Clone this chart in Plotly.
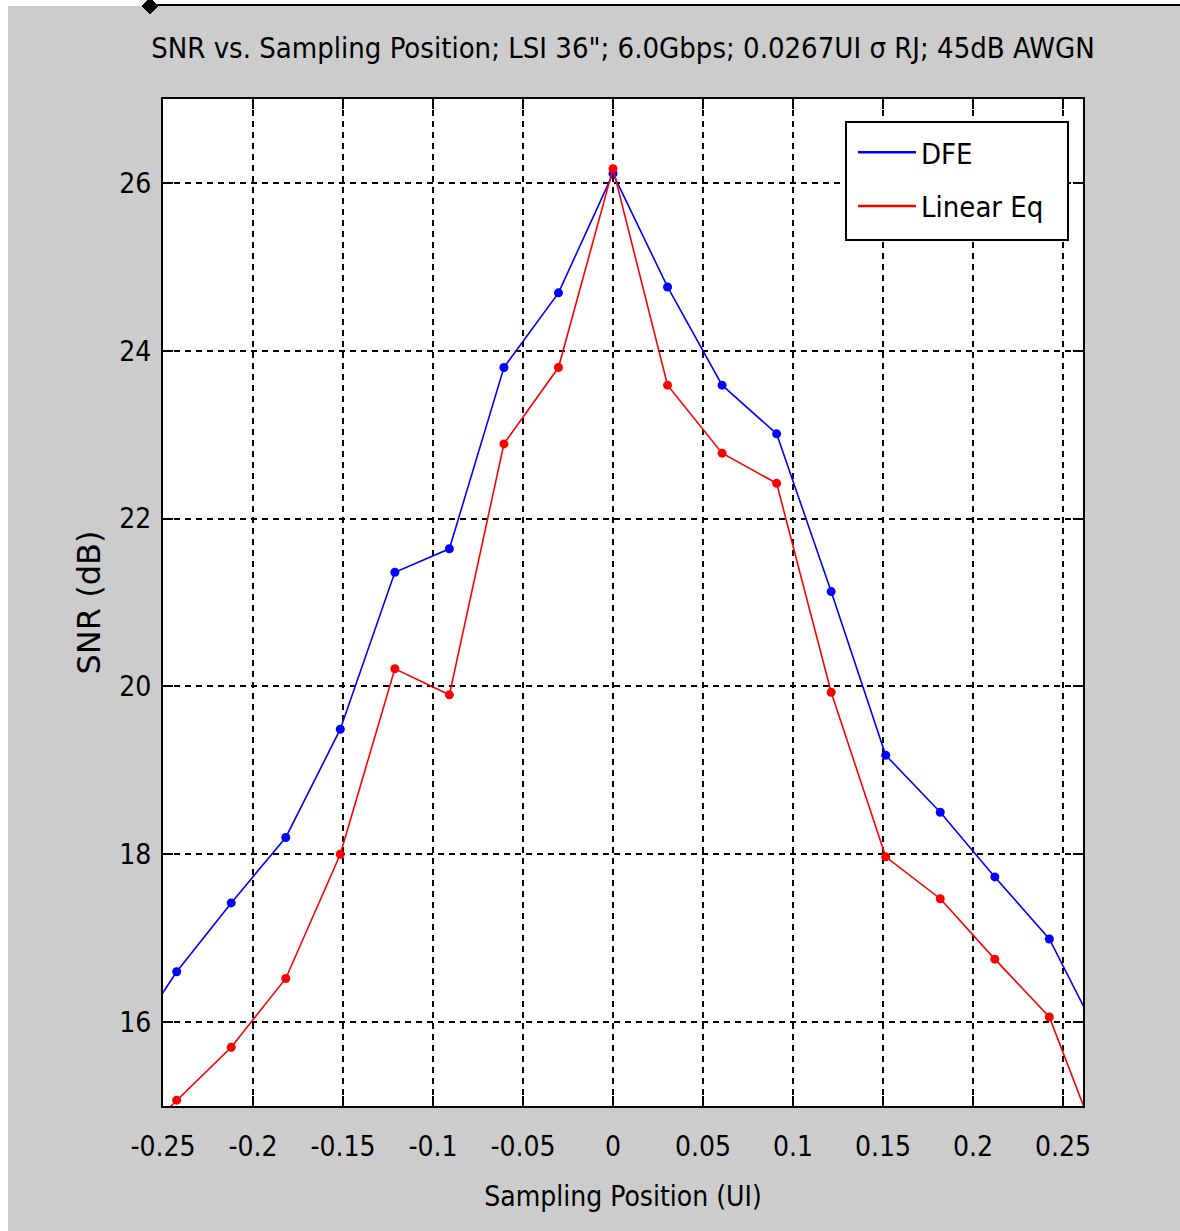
import plotly.graph_objects as go

# Sampling positions (UI) and SNR values (dB)
sampling_pos = [-0.2727, -0.2424, -0.2121, -0.1818, -0.1515, -0.1212, -0.0909,
                -0.0606, -0.0303, 0.0, 0.0303, 0.0606, 0.0909, 0.1212,
                0.1515, 0.1818, 0.2121, 0.2424, 0.2727]
snr_dfe = [15.61, 16.60, 17.42, 18.20, 19.49, 21.36, 21.64, 23.80, 24.69,
           26.11, 24.76, 23.59, 23.01, 21.13, 19.18, 18.50, 17.73, 16.99, 15.71]
snr_lin = [14.43, 15.07, 15.70, 16.52, 18.00, 20.21, 19.90, 22.89, 23.80,
           26.17, 23.59, 22.78, 22.42, 19.93, 17.97, 17.47, 16.75, 16.06, 14.37]

series_names = ["DFE", "Linear Eq"]
series_colors = ["#0000ff", "#ff0000"]

x_tickvals = [-0.25, -0.2, -0.15, -0.1, -0.05, 0, 0.05, 0.1, 0.15, 0.2, 0.25]
x_ticktext = ["-0.25", "-0.2", "-0.15", "-0.1", "-0.05", "0", "0.05", "0.1",
              "0.15", "0.2", "0.25"]
y_tickvals = [16, 18, 20, 22, 24, 26]
y_ticktext = ["16", "18", "20", "22", "24", "26"]

title_text = "SNR vs. Sampling Position; LSI 36\"; 6.0Gbps; 0.0267UI σ RJ; 45dB AWGN"

FONT = "DejaVu Sans Condensed, Liberation Sans Narrow, sans-serif"

W, H = 1180, 1231
L, R, T, B = 163, 97, 99, 125
PW, PH = W - L - R, H - T - B


def px(x):
    return (x - L) / PW


def py(y):
    return (H - B - y) / PH


fig = go.Figure()
for name, vals, col in zip(series_names, [snr_dfe, snr_lin], series_colors):
    fig.add_trace(go.Scatter(
        x=sampling_pos, y=vals, mode="lines+markers", name=name,
        line=dict(color=col, width=1.6),
        marker=dict(color=col, size=9, symbol="circle"),
        showlegend=False,
    ))
for name, vals, col in zip(series_names, [snr_dfe, snr_lin], series_colors):
    fig.add_trace(go.Scatter(
        x=[None], y=[None], mode="lines", name=name,
        line=dict(color=col, width=2.5),
        legendgroup=name, showlegend=True,
    ))

axis_common = dict(
    showline=True, linecolor="black", linewidth=2, mirror="ticks",
    ticks="inside", ticklen=10, tickwidth=2, tickcolor="black",
    showgrid=True, gridcolor="black", gridwidth=2, griddash="6px,5px",
    zeroline=False, tickfont=dict(family=FONT, size=28, color="black"),
)

fig.update_layout(
    width=W, height=H,
    margin=dict(l=L, r=R, t=T, b=B),
    paper_bgcolor="#cccccc",
    plot_bgcolor="white",
    font=dict(family=FONT, color="black"),
    title=dict(text=title_text, x=0.5, xref="paper", xanchor="center",
               y=1 - 48 / H, yref="container", yanchor="middle",
               font=dict(family=FONT, size=29, color="black")),
    xaxis=dict(range=[-0.25, 0.2611], tickvals=x_tickvals, ticktext=x_ticktext,
               ticklabelstandoff=14,
               title=dict(text="Sampling Position (UI)", standoff=25,
                          font=dict(family=FONT, size=28, color="black")),
               **axis_common),
    yaxis=dict(range=[15, 27], tickvals=y_tickvals, ticktext=y_ticktext,
               ticklabelstandoff=4,
               title=dict(text="SNR (dB)", standoff=9,
                          font=dict(family="DejaVu Sans, sans-serif",
                                    size=32, color="black")),
               **axis_common),
    legend=dict(x=px(853), xanchor="left", y=py(127), yanchor="top",
                bgcolor="rgba(0,0,0,0)", borderwidth=0,
                font=dict(family=FONT, size=29, color="black"),
                traceorder="grouped", tracegroupgap=13, itemwidth=58),
    showlegend=True,
)

# legend frame
fig.add_shape(type="rect", xref="paper", yref="paper",
              x0=px(846), x1=px(1068), y0=py(240), y1=py(122),
              fillcolor="white", line=dict(color="black", width=2), layer="above")

# white margins at left/top edges of the image and top black line with diamond
fig.add_shape(type="rect", xref="paper", yref="paper",
              x0=px(0), x1=px(8), y0=py(H), y1=py(0),
              fillcolor="white", line=dict(width=0), layer="above")
fig.add_shape(type="rect", xref="paper", yref="paper",
              x0=px(0), x1=px(W), y0=py(6), y1=py(0),
              fillcolor="white", line=dict(width=0), layer="above")
fig.add_shape(type="line", xref="paper", yref="paper",
              x0=px(150), x1=px(W), y0=py(5), y1=py(5),
              line=dict(color="black", width=2), layer="above")
fig.add_shape(type="path", xref="paper", yref="paper",
              xsizemode="pixel", ysizemode="pixel",
              xanchor=px(150), yanchor=py(6),
              path="M -8 0 L 0 8 L 8 0 L 0 -8 Z",
              fillcolor="black", line=dict(color="black", width=1), layer="above")

fig.write_html("out.html")
